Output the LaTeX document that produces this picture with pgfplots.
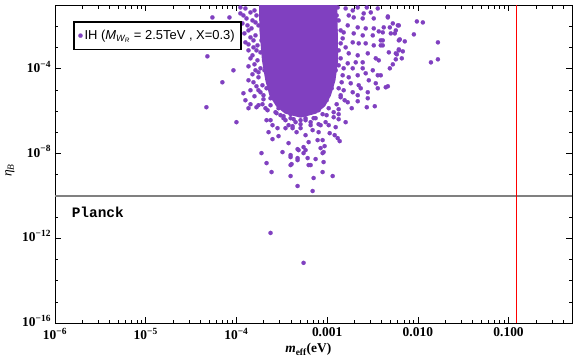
\documentclass[border=0pt]{standalone}
\usepackage{fontspec}
\setmainfont{Liberation Serif}
\setsansfont{Liberation Sans}
\setmonofont{Liberation Mono}
\usepackage{pgfplots}
\usepackage{pgfplotstable}
\pgfplotsset{compat=1.18}
\definecolor{purp}{RGB}{128,64,192}
\definecolor{planckgray}{RGB}{128,128,128}

% core of the cloud (log10 m_eff, log10 eta_B)
\pgfplotstableread{
lx ly
-3.735 -0.98
-3.730 -2.20
-3.702 -3.61
-3.665 -4.55
-3.620 -5.256
-3.550 -5.727
-3.459 -6.056
-3.293 -6.245
-3.127 -6.056
-3.035 -5.727
-2.975 -5.256
-2.925 -4.55
-2.895 -3.61
-2.900 -2.20
-2.905 -0.98
}\coretab

% individual points (log10 m_eff, log10 eta_B)
\pgfplotstableread{
lx ly
-3.956 -1.115
-4.265 -1.586
-4.077 -1.586
-3.956 -1.397
-3.923 -1.491
-3.934 -1.868
-3.878 -1.962
-3.823 -1.727
-3.867 -2.198
-3.845 -2.527
-3.901 -2.762
-3.867 -3.139
-3.812 -2.998
-3.823 -3.374
-3.768 -3.609
-4.320 -3.421
-4.033 -4.080
-4.155 -4.645
-3.923 -5.162
-3.867 -4.551
-3.812 -4.645
-3.757 -4.409
-3.735 -3.986
-3.702 -5.256
-3.779 -1.491
-3.757 -1.962
-3.790 -2.433
-3.768 -2.904
-3.735 -3.233
-3.790 -4.080
-3.713 -4.786
-3.757 -5.021
-4.331 -5.821
-4.000 -6.527
-3.867 -5.868
-3.779 -5.821
-3.757 -5.727
-3.702 -5.445
-3.680 -5.868
-3.657 -5.962
-3.668 -6.433
-3.624 -6.433
-3.602 -6.668
-3.646 -6.998
-3.547 -6.809
-3.481 -6.339
-3.602 -7.327
-3.536 -7.186
-3.724 -7.986
-3.492 -7.939
-3.668 -8.457
-3.613 -8.880
-3.403 -8.174
-3.425 -7.515
-3.392 -8.504
-3.403 -9.068
-3.326 -9.539
-3.326 -8.221
-3.381 -6.809
-3.337 -6.998
-3.315 -7.845
-3.569 -6.056
-3.514 -6.197
-3.459 -6.433
-3.403 -6.339
-3.348 -6.527
-3.293 -6.433
-3.425 -6.668
-3.492 -5.868
-3.624 -5.727
-2.851 -5.351
-2.773 -5.586
-2.663 -5.539
-2.552 -5.398
-2.729 -5.868
-2.563 -5.821
-2.475 -5.774
-2.873 -5.915
-2.873 -6.150
-2.873 -6.386
-2.928 -6.056
-2.928 -6.292
-2.796 -6.527
-2.906 -6.762
-2.983 -6.668
-3.017 -6.527
-2.972 -7.045
-2.917 -7.139
-2.884 -7.280
-2.862 -7.421
-3.105 -7.374
-3.050 -7.374
-3.204 -7.468
-3.028 -7.656
-3.072 -7.750
-3.260 -7.703
-3.326 -7.798
-3.238 -7.845
-3.039 -7.939
-3.050 -7.986
-3.260 -7.986
-3.215 -8.221
-3.127 -8.268
-3.039 -8.409
-3.204 -8.551
-3.182 -8.551
-3.326 -8.315
-3.403 -8.080
-3.403 -8.551
-3.050 -8.880
-2.939 -9.068
-3.149 -9.162
-3.160 -9.774
-3.238 -6.433
-3.182 -6.668
-3.127 -6.339
-3.072 -6.668
-3.160 -6.903
-3.293 -6.809
-3.238 -7.139
-3.094 -6.998
-3.006 -6.197
-3.624 -11.751
-3.260 -13.163
-2.884 -1.115
-2.796 -1.162
-2.718 -1.256
-2.663 -1.115
-2.563 -1.115
-2.442 -1.162
-2.519 -1.350
-2.597 -1.397
-2.762 -1.491
-2.707 -1.586
-2.608 -1.633
-2.486 -1.633
-2.331 -1.539
-2.221 -1.962
-2.276 -1.868
-2.376 -2.056
-2.431 -2.245
-2.486 -2.103
-2.575 -2.103
-2.663 -2.056
-2.773 -1.962
-2.818 -2.292
-2.707 -2.339
-2.608 -2.433
-2.497 -2.433
-2.409 -2.668
-2.298 -2.339
-2.243 -2.198
-2.210 -2.668
-2.210 -3.139
-2.243 -3.280
-2.320 -3.233
-2.409 -2.904
-2.486 -2.904
-2.575 -2.809
-2.652 -2.809
-2.718 -2.762
-2.796 -2.998
-2.851 -2.809
-2.762 -3.280
-2.663 -3.374
-2.552 -3.280
-2.464 -3.515
-2.431 -3.609
-2.608 -3.704
-2.685 -3.704
-2.773 -3.751
-2.818 -3.986
-2.718 -3.986
-2.608 -3.986
-2.497 -4.080
-2.442 -4.315
-2.575 -4.221
-2.663 -4.315
-2.762 -4.409
-2.829 -4.315
-2.740 -4.692
-2.652 -4.786
-2.541 -4.551
-2.464 -4.692
-2.331 -4.833
-2.442 -4.927
-2.552 -5.115
-2.718 -5.115
-2.818 -5.021
-2.630 -4.927
-2.663 -5.256
-2.851 -5.256
-2.331 -1.586
-2.210 -1.962
-2.309 -2.056
-2.254 -2.339
-2.387 -2.292
-2.011 -1.774
-1.945 -1.821
-2.044 -2.386
-2.199 -2.621
-2.144 -2.715
-2.387 -2.668
-2.387 -2.904
-1.779 -2.762
-2.210 -3.092
-2.166 -3.186
-2.232 -3.327
-2.177 -3.515
-2.243 -3.562
-2.276 -3.798
-2.309 -3.986
-1.856 -3.704
-1.779 -3.562
-2.409 -4.315
-2.354 -4.880
-3.713 -1.256
-3.702 -1.727
-3.724 -2.668
-3.702 -3.139
-3.691 -4.080
-3.668 -4.927
-3.624 -5.398
-3.536 -5.868
-3.403 -6.150
-3.094 -5.962
-3.006 -5.492
-2.950 -4.927
-2.906 -4.080
-2.895 -3.139
-2.906 -2.198
-2.895 -1.491
-3.901 -1.162
-3.845 -1.350
-3.801 -1.256
-3.889 -1.633
-3.834 -2.103
-3.790 -1.821
-3.912 -2.339
-3.812 -2.668
-3.867 -2.857
-3.779 -3.139
-3.845 -3.515
-3.801 -3.798
-3.867 -3.892
-3.757 -4.174
-3.823 -4.268
-3.779 -4.833
-3.845 -5.021
-3.735 -5.115
-3.801 -5.304
-3.901 -5.492
-3.713 -5.680
-3.845 -5.680
-2.873 -1.727
-2.851 -2.198
-2.829 -2.574
-2.873 -3.139
-2.851 -3.515
-2.873 -3.845
-2.840 -4.645
-2.873 -4.927
-2.807 -5.492
-2.895 -5.680
-3.558 -6.103
-3.481 -6.245
-3.370 -6.386
-3.238 -6.339
-3.149 -6.339
-3.050 -6.150
-2.983 -5.868
-3.293 -6.621
-3.381 -6.715
-3.182 -6.527
-3.459 -6.809
-3.094 -6.621
}\pointtab

\begin{document}
\begin{tikzpicture}
\begin{axis}[
  name=ax,
  scale only axis,
  width=517bp, height=318bp,
  xmode=log, ymode=log,
  xmin=1e-6, xmax=0.5,
  ymin=1e-16, ymax=0.1,
  axis line style={black, line width=0.8bp},
  tick align=inside,
  major tick length=6bp,
  minor tick length=3.5bp,
  tick style={black, line width=0.6bp},
  xtick={1e-6,1e-5,1e-4,1e-3,1e-2,1e-1},
  xticklabels={10\textsuperscript{−6},10\textsuperscript{−5},10\textsuperscript{−4},0.001,0.010,0.100},
  minor xtick={2e-6,3e-6,4e-6,5e-6,6e-6,7e-6,8e-6,9e-6,
               2e-5,3e-5,4e-5,5e-5,6e-5,7e-5,8e-5,9e-5,
               2e-4,3e-4,4e-4,5e-4,6e-4,7e-4,8e-4,9e-4,
               2e-3,3e-3,4e-3,5e-3,6e-3,7e-3,8e-3,9e-3,
               2e-2,3e-2,4e-2,5e-2,6e-2,7e-2,8e-2,9e-2,
               2e-1,3e-1,4e-1},
  ytick={1e-16,1e-12,1e-8,1e-4},
  yticklabels={10\textsuperscript{−16},10\textsuperscript{−12},10\textsuperscript{−8},10\textsuperscript{−4}},
  minor ytick={1e-15,1e-14,1e-13,1e-11,1e-10,1e-9,1e-7,1e-6,1e-5,1e-3,1e-2},
  ticklabel style={font=\bfseries\fontsize{13.5}{15}\selectfont},
  xticklabel style={yshift=-1.5bp},
  yticklabel style={yshift=2bp, xshift=-0.5bp},
  xlabel={\textbf{\textit{m}\textsubscript{eff}(eV)}},
  ylabel={\textit{η}\textsubscript{\textit{B}}},
  label style={font=\fontsize{13.5}{15}\selectfont},
  xlabel style={at={(axis description cs:0.49,0)}, anchor=north, yshift=-17bp},
  ylabel style={at={(axis description cs:0,0.48)}, anchor=south, yshift=37bp},
  legend style={at={(0.035,0.95)}, anchor=north west, draw=black, line width=1.6bp,
    font=\sffamily\fontsize{13}{15}\selectfont, inner xsep=4.5bp, inner ysep=6.5bp},
  legend cell align=left,
]
\addplot[fill=purp, draw=purp, line width=3bp, line join=round, forget plot]
  table[x expr={10^(\thisrow{lx})}, y expr={10^(\thisrow{ly})}] {\coretab} -- cycle;
\addplot[only marks, mark=*, mark size=2.1bp, color=purp, mark options={draw=purp, fill=purp, line width=0.2bp}]
  table[x expr={10^(\thisrow{lx})}, y expr={10^(\thisrow{ly})}] {\pointtab};
\addlegendentry{IH (\textit{M\textsubscript{W\textsubscript{R}}} = 2.5TeV , X=0.3)}
\addplot[planckgray, line width=1.6bp, forget plot] coordinates {(1e-6,1e-10) (0.5,1e-10)};
\addplot[red, line width=0.8bp, forget plot] coordinates {(0.123,1e-16) (0.123,0.1)};
\node[anchor=west, font=\ttfamily\bfseries\fontsize{14.5}{16}\selectfont] at (axis cs:1.4e-6,1.75e-11) {Planck};
\end{axis}
\pgfresetboundingbox
\path ([shift={(-55bp,-40bp)}]ax.south west) rectangle ([shift={(4bp,5bp)}]ax.north east);
\end{tikzpicture}
\end{document}
